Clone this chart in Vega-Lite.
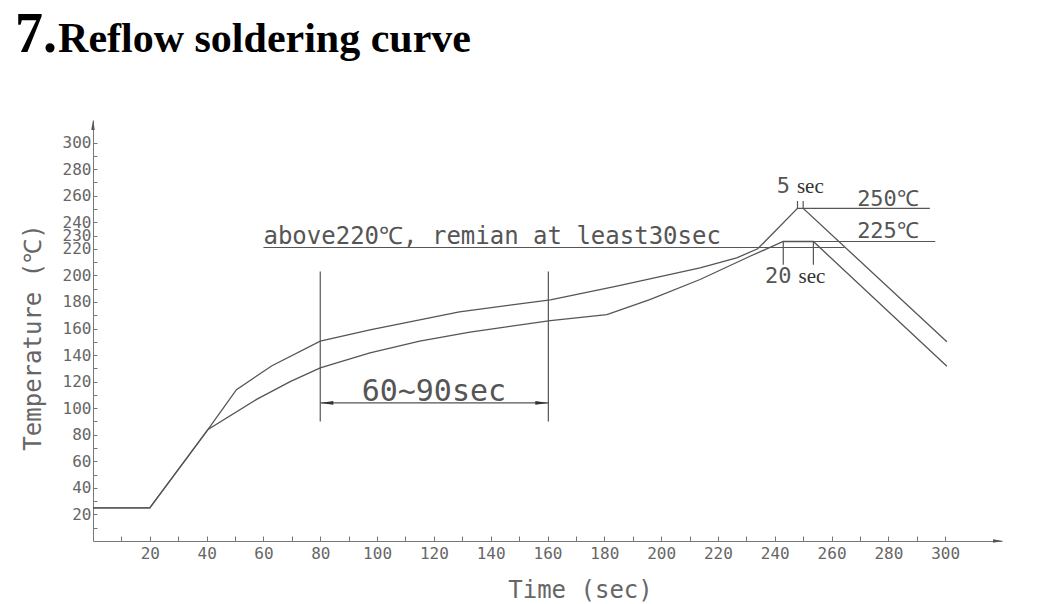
{
  "$schema": "https://vega.github.io/schema/vega-lite/v6.json",
  "width": 909,
  "height": 421,
  "autosize": {"type": "none"},
  "padding": {"left": 93, "top": 120, "right": 37, "bottom": 63},
  "background": "white",
  "config": {"view": {"stroke": null}},
  "datasets": {
    "curves": [
      {"curve": "A", "t": 0, "T": 25}, {"curve": "A", "t": 20, "T": 25}, {"curve": "A", "t": 40.5, "T": 84},
      {"curve": "A", "t": 50.5, "T": 114}, {"curve": "A", "t": 63, "T": 132}, {"curve": "A", "t": 80, "T": 150.5},
      {"curve": "A", "t": 97.5, "T": 159}, {"curve": "A", "t": 129, "T": 172.6}, {"curve": "A", "t": 161, "T": 181.5},
      {"curve": "A", "t": 184.4, "T": 191.9}, {"curve": "A", "t": 213.7, "T": 205.7}, {"curve": "A", "t": 226.6, "T": 213.2},
      {"curve": "A", "t": 234, "T": 220}, {"curve": "A", "t": 248, "T": 250.5}, {"curve": "A", "t": 250, "T": 250.5},
      {"curve": "A", "t": 300.6, "T": 150},
      {"curve": "B", "t": 0, "T": 25}, {"curve": "B", "t": 20, "T": 25}, {"curve": "B", "t": 40.5, "T": 84},
      {"curve": "B", "t": 57.6, "T": 106.6}, {"curve": "B", "t": 69.4, "T": 120}, {"curve": "B", "t": 80, "T": 130.4},
      {"curve": "B", "t": 97.5, "T": 141.7}, {"curve": "B", "t": 115, "T": 150.5}, {"curve": "B", "t": 132.7, "T": 157.2},
      {"curve": "B", "t": 161, "T": 166}, {"curve": "B", "t": 180.9, "T": 170.5}, {"curve": "B", "t": 196, "T": 181.8},
      {"curve": "B", "t": 213.7, "T": 196.9}, {"curve": "B", "t": 231.3, "T": 214.4}, {"curve": "B", "t": 243, "T": 225.5},
      {"curve": "B", "t": 253.6, "T": 225.5}, {"curve": "B", "t": 300.6, "T": 131.6}
    ],
    "segments": [
      {"name": "220 line", "t": 60, "T": 221, "t2": 264.5, "T2": 221},
      {"name": "225 line", "t": 243, "T": 225.5, "t2": 296.5, "T2": 225.5},
      {"name": "250 line", "t": 250, "T": 250.5, "t2": 294.6, "T2": 250.5},
      {"name": "soak start", "t": 80, "T": 90, "t2": 80, "T2": 203},
      {"name": "soak end", "t": 160.3, "T": 90, "t2": 160.3, "T2": 203},
      {"name": "soak dimension", "t": 80, "T": 104, "t2": 160.3, "T2": 104},
      {"name": "5 sec a", "t": 248, "T": 250.5, "t2": 248, "T2": 256},
      {"name": "5 sec b", "t": 250, "T": 250.5, "t2": 250, "T2": 256},
      {"name": "20 sec a", "t": 243, "T": 225.5, "t2": 243, "T2": 208},
      {"name": "20 sec b", "t": 253.6, "T": 225.5, "t2": 253.6, "T2": 208}
    ]
  },
  "encoding": {
    "x": {"field": "t", "type": "quantitative", "scale": {"domain": [0, 320], "nice": false, "zero": false},
      "axis": {
        "values": [10,20,30,40,50,60,70,80,90,100,110,120,130,140,150,160,170,180,190,200,210,220,230,240,250,260,270,280,290,300],
        "labelExpr": "datum.value % 20 === 0 ? datum.label : ''",
        "labelOverlap": false,
        "grid": false,
        "tickSize": -5,
        "labelPadding": 9,
        "domainColor": "#777777",
        "tickColor": "#777777",
        "labelFont": "DejaVu Sans Mono",
        "labelFontSize": 16,
        "labelColor": "#666666",
        "title": "Time (sec)",
        "titleFont": "DejaVu Sans Mono",
        "titleFontSize": 24,
        "titleFontWeight": "normal",
        "titleColor": "#666666",
        "titleX": 487,
        "titleY": 49,
        "titleAlign": "center",
        "titleBaseline": "middle"
      }},
    "y": {"field": "T", "type": "quantitative", "scale": {"domain": [0, 317], "nice": false, "zero": false},
      "axis": {
        "values": [10,20,30,40,50,60,70,80,90,100,110,120,130,140,150,160,170,180,190,200,210,220,230,240,250,260,270,280,290,300],
        "labelExpr": "datum.value % 20 === 0 || datum.value === 230 ? datum.label : ''",
        "labelOverlap": false,
        "grid": false,
        "tickSize": -4,
        "labelPadding": 6,
        "domainColor": "#777777",
        "tickColor": "#777777",
        "labelFont": "DejaVu Sans Mono",
        "labelFontSize": 16,
        "labelColor": "#666666",
        "title": "Temperature (\u2103)",
        "titleFont": "DejaVu Sans Mono",
        "titleFontSize": 24,
        "titleFontWeight": "normal",
        "titleColor": "#666666",
        "titleX": -60,
        "titleY": 217,
        "titleAngle": -90,
        "titleAlign": "center",
        "titleBaseline": "middle"
      }}
  },
  "layer": [
    {
      "data": {"name": "curves"},
      "mark": {"type": "line", "color": "#555555", "strokeWidth": 1.3},
      "encoding": {"detail": {"field": "curve", "type": "nominal"}}
    },
    {
      "data": {"name": "segments"},
      "mark": {"type": "rule", "color": "#555555", "strokeWidth": 1.2},
      "encoding": {"x2": {"field": "t2"}, "y2": {"field": "T2"}}
    },
    {
      "data": {"values": [{"t": 82.3, "T": 104}]},
      "mark": {"type": "point", "shape": "M-1,0L1,-0.3L1,0.3Z", "size": 169, "filled": true, "opacity": 1, "color": "#333333"}
    },
    {
      "data": {"values": [{"t": 158, "T": 104}]},
      "mark": {"type": "point", "shape": "M1,0L-1,-0.3L-1,0.3Z", "size": 169, "filled": true, "opacity": 1, "color": "#333333"}
    },
    {
      "data": {"values": [{"t": 318.6, "T": 0}]},
      "mark": {"type": "point", "shape": "M1,0L-1,-0.35L-1,0.35Z", "size": 100, "filled": true, "opacity": 1, "color": "#555555"}
    },
    {
      "data": {"values": [{"t": 0, "T": 313.2}]},
      "mark": {"type": "point", "shape": "M0,-1L-0.35,1L0.35,1Z", "size": 100, "filled": true, "opacity": 1, "color": "#555555"}
    },
    {
      "data": {"values": [{"t": -27.5, "T": 368.5, "label": "7."}]},
      "mark": {"type": "text", "align": "left", "baseline": "alphabetic", "font": "Liberation Serif", "fontSize": 56, "fontWeight": "bold", "color": "#000000"},
      "encoding": {"text": {"field": "label"}}
    },
    {
      "data": {"values": [{"t": -12.3, "T": 368.5, "label": "Reflow soldering curve"}]},
      "mark": {"type": "text", "align": "left", "baseline": "alphabetic", "font": "Liberation Serif", "fontSize": 42, "fontWeight": "bold", "color": "#000000"},
      "encoding": {"text": {"field": "label"}}
    },
    {
      "data": {"values": [{"t": 60, "T": 223.5, "label": "above220\u2103, remian at least30sec"}]},
      "mark": {"type": "text", "align": "left", "baseline": "alphabetic", "font": "DejaVu Sans Mono", "fontSize": 24, "color": "#555555"},
      "encoding": {"text": {"field": "label"}}
    },
    {
      "data": {"values": [{"t": 120, "T": 105.5, "label": "60~90sec"}]},
      "mark": {"type": "text", "align": "center", "baseline": "alphabetic", "font": "DejaVu Sans Mono", "fontSize": 30, "color": "#555555"},
      "encoding": {"text": {"field": "label"}}
    },
    {
      "data": {"values": [{"t": 269, "T": 252, "label": "250\u2103"}, {"t": 269, "T": 228.3, "label": "225\u2103"}]},
      "mark": {"type": "text", "align": "left", "baseline": "alphabetic", "font": "DejaVu Sans Mono", "fontSize": 22, "color": "#555555"},
      "encoding": {"text": {"field": "label"}}
    },
    {
      "data": {"values": [{"t": 240.7, "T": 262, "label": "5"}, {"t": 236.6, "T": 194.4, "label": "20"}]},
      "mark": {"type": "text", "align": "left", "baseline": "alphabetic", "font": "DejaVu Sans Mono", "fontSize": 22, "color": "#555555"},
      "encoding": {"text": {"field": "label"}}
    },
    {
      "data": {"values": [{"t": 247.8, "T": 262, "label": "sec"}, {"t": 248.4, "T": 194.4, "label": "sec"}]},
      "mark": {"type": "text", "align": "left", "baseline": "alphabetic", "font": "Liberation Serif", "fontSize": 21, "color": "#333333"},
      "encoding": {"text": {"field": "label"}}
    }
  ]
}
